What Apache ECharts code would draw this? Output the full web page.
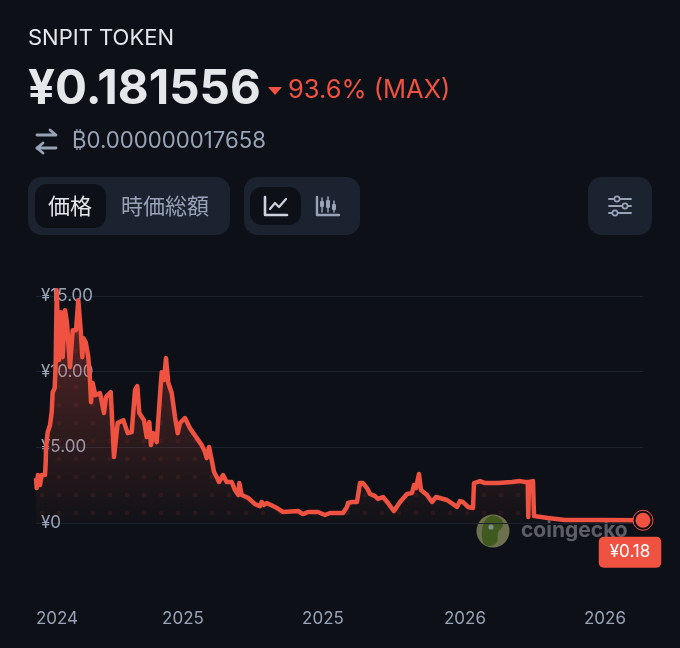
<!DOCTYPE html>
<html>
<head>
<meta charset="utf-8">
<style>
html, body { margin: 0; padding: 0; background: #0d1117; }
#chart { width: 680px; height: 648px; }
</style>
<script src="https://cdn.jsdelivr.net/npm/echarts@6/dist/echarts.min.js"></script>
</head>
<body>
<div id="chart"></div>
<script>
// days since the start of the chart
var days = [0, 0.7, 2, 4, 5.7, 9, 9.7, 10, 11.7, 14, 15.7, 16.7, 18.7, 19.7, 20.7, 22, 23, 24.7, 26.7, 29, 31, 34, 36.7, 40, 42.3, 43.3, 44.7, 46.3, 47.3, 49.7, 52.3, 54, 55, 56.7, 59.3, 64, 68, 70, 74.7, 76.3, 78, 80, 81.7, 87.3, 91.7, 95.7, 99, 101.3, 103.3, 108, 110.7, 113.3, 115, 117.3, 120.7, 124, 125.7, 128, 130, 132.3, 135.7, 139, 141.7, 144, 149, 154, 165.7, 169, 170.7, 173, 175.7, 178, 180.7, 183, 187, 190.7, 195.7, 199, 202.3, 203.3, 205.7, 212.3, 219, 224, 225.7, 228, 230.7, 239, 247, 262, 267, 272, 282, 289, 294, 307, 311, 312, 316, 321, 324, 327, 331, 334, 339, 342, 347, 352, 358, 364, 371, 376, 378, 380, 383, 385, 391, 396, 400, 402, 411, 421, 424, 427, 432, 437, 438, 444, 449, 462, 476, 484, 489, 491.7, 492.3, 493, 497, 498, 512, 529, 562, 607];
var prices = [2.97, 2.31, 3.17, 2.51, 3.17, 3.17, 4.03, 4.95, 6.01, 6.47, 7.33, 8.65, 8.92, 10.63, 15.39, 15.39, 10.77, 13.94, 10.96, 14.07, 13.21, 10.3, 12.75, 12.75, 14.73, 14.73, 12.75, 10.96, 12.22, 11.96, 10.96, 9.45, 7.99, 9.25, 8.45, 8.59, 7.27, 8.32, 8.65, 6.61, 4.36, 4.36, 6.61, 6.8, 5.94, 6.01, 8.78, 9.05, 7.27, 6.8, 5.68, 6.67, 5.15, 5.94, 5.35, 8.45, 9.97, 9.45, 10.9, 9.25, 8.59, 7.0, 5.94, 6.61, 6.94, 6.27, 5.15, 4.69, 4.29, 5.02, 4.16, 3.37, 3.04, 2.71, 3.17, 2.71, 2.71, 2.18, 1.85, 2.64, 1.85, 1.65, 1.25, 1.12, 1.39, 1.19, 1.32, 1.06, 0.73, 0.79, 0.59, 0.73, 0.73, 0.53, 0.66, 0.66, 1.06, 1.32, 1.39, 1.39, 2.64, 2.64, 2.31, 1.92, 1.78, 1.59, 1.72, 1.32, 0.79, 1.39, 1.92, 1.98, 2.51, 2.31, 3.24, 2.18, 1.85, 1.39, 1.72, 1.59, 1.52, 1.06, 1.45, 1.39, 1.06, 0.99, 2.64, 2.77, 2.64, 2.64, 2.71, 2.77, 2.71, 2.71, 0.4, 2.71, 2.77, 0.46, 0.33, 0.2, 0.2, 0.18];
var yTicks = [0, 5, 10, 15];
var yLabels = ['¥0', '¥5.00', '¥10.00', '¥15.00'];
var xTicks = [21, 147, 287, 429, 569];
var xLabels = ['2024', '2025', '2025', '2026', '2026'];

var red = '#ef5241';
var bg = '#0d1117';
var panel = '#1c2330';
var grey = '#98a3b8';
var latin = 'Inter, "Noto Sans", sans-serif';
var jp = '"Noto Sans CJK JP", sans-serif';

var points = days.map(function(d, i) { return [d, prices[i]]; });
var last = points[points.length - 1];

// dotted texture inside the area
var tile = document.createElement('canvas');
tile.width = 17;
tile.height = 18;
var c = tile.getContext('2d');
c.fillStyle = 'rgba(239,82,65,0.09)';
c.beginPath();
c.arc(8, 9, 2.4, 0, Math.PI * 2);
c.fill();

function txt(x, y, s, size, color, font, weight, align) {
    return {
        type: 'text', x: x, y: y, silent: true,
        style: { text: s, fontSize: size, fill: color, fontFamily: font, fontWeight: weight || 400, textAlign: align || 'left', textVerticalAlign: 'middle' }
    };
}
function box(x, y, w, h, r, fill) {
    return { type: 'rect', silent: true, shape: { x: x, y: y, width: w, height: h, r: r }, style: { fill: fill } };
}
function stroke(pts, color, width) {
    return { type: 'polyline', silent: true, shape: { points: pts }, style: { fill: null, stroke: color, lineWidth: width, lineCap: 'round', lineJoin: 'round' } };
}
function knob(x, y) {
    return { type: 'circle', silent: true, shape: { cx: x, cy: y, r: 2.6 }, style: { fill: panel, stroke: grey, lineWidth: 1.6 } };
}

var myChart = echarts.init(document.getElementById('chart'));

var option = {
    animation: false,
    backgroundColor: bg,
    grid: { left: 36, right: 37, top: 284, bottom: 125, containLabel: false },
    xAxis: {
        type: 'value',
        min: 0,
        max: 607,
        splitLine: { show: false },
        axisLine: { show: false },
        axisTick: { show: false },
        axisLabel: {
            customValues: xTicks,
            margin: 87,
            fontSize: 17,
            color: grey,
            fontFamily: latin,
            formatter: function(v) { return xLabels[xTicks.indexOf(v)]; }
        }
    },
    yAxis: {
        type: 'value',
        min: 0,
        max: 15.8,
        axisLine: { show: false },
        axisTick: { show: false, customValues: yTicks },
        splitLine: { show: true, lineStyle: { color: '#1d2431', width: 1 } },
        axisLabel: {
            customValues: yTicks,
            inside: true,
            margin: 5,
            padding: [4, 0, 0, 0],
            fontSize: 17,
            color: grey,
            fontFamily: latin,
            formatter: function(v) { return yLabels[yTicks.indexOf(v)]; }
        }
    },
    series: [
        {
            type: 'line',
            data: points,
            showSymbol: false,
            silent: true,
            lineStyle: { opacity: 0 },
            areaStyle: { color: { image: tile, repeat: 'repeat' }, opacity: 1 },
            z: 2
        },
        {
            type: 'line',
            data: points,
            showSymbol: false,
            silent: true,
            lineStyle: { color: red, width: 4.5, join: 'round' },
            areaStyle: {
                color: new echarts.graphic.LinearGradient(0, 0, 0, 1, [
                    { offset: 0, color: 'rgba(239,82,65,0.5)' },
                    { offset: 1, color: 'rgba(239,82,65,0.03)' }
                ])
            },
            z: 3
        },
        {
            type: 'scatter',
            data: [last],
            clip: false,
            silent: true,
            symbolSize: 20,
            itemStyle: { color: bg, borderColor: red, borderWidth: 1, opacity: 1 },
            z: 4
        },
        {
            type: 'scatter',
            data: [last],
            clip: false,
            silent: true,
            symbolSize: 15,
            itemStyle: { color: red, opacity: 1 },
            label: {
                show: true,
                position: 'bottom',
                offset: [-13, 4],
                formatter: '¥' + last[1].toFixed(2),
                color: '#ffffff',
                fontSize: 17,
                fontFamily: latin,
                backgroundColor: red,
                borderRadius: 5,
                padding: [7, 11, 7, 11]
            },
            z: 5
        }
    ],
    graphic: [
        txt(28, 38, 'SNPIT TOKEN', 22, '#e5e7eb', latin),
        txt(28, 90, '¥0.181556', 47.5, '#e5e7eb', latin, 700),
        { type: 'polygon', silent: true, shape: { points: [[268, 87], [282, 87], [275, 95]] }, style: { fill: red } },
        txt(288, 90, '93.6% (MAX)', 25.5, red, latin),
        stroke([[37, 135], [56, 135], [50, 130]], grey, 2.8),
        stroke([[43, 143], [37, 148], [56, 148]], grey, 2.8),
        stroke([[37, 148], [43, 153]], grey, 2.8),
        txt(72, 141, '₿0.000000017658', 22.2, grey, latin),

        box(28, 177, 202, 58, 14, panel),
        box(35, 184, 71, 44, 12, bg),
        txt(70, 206, '価格', 22, '#e5e7eb', jp, 400, 'center'),
        txt(165, 206, '時価総額', 22, grey, jp, 400, 'center'),

        box(244, 177, 116, 58, 14, panel),
        box(250, 187, 51, 38, 12, bg),
        stroke([[265, 197], [265, 215], [287, 215]], '#cbd2de', 2.6),
        stroke([[270, 209], [275, 203], [279, 207], [286, 199]], '#cbd2de', 2.2),
        stroke([[317, 197], [317, 215], [339, 215]], grey, 2.4),
        stroke([[322, 198], [322, 212]], grey, 1.5),
        stroke([[328, 197], [328, 212]], grey, 1.5),
        stroke([[334, 201], [334, 212]], grey, 1.5),
        box(320, 201, 4, 6, 1, grey),
        box(326, 200, 4, 8, 1, grey),
        box(332, 204, 4, 6, 1, grey),

        box(588, 177, 64, 58, 14, panel),
        stroke([[609, 199], [631, 199]], grey, 1.8),
        stroke([[609, 206], [631, 206]], grey, 1.8),
        stroke([[609, 213], [631, 213]], grey, 1.8),
        knob(617, 199),
        knob(625, 206),
        knob(615, 213),

        // watermark
        { type: 'circle', silent: true, shape: { cx: 493, cy: 531, r: 16.5 }, style: { fill: '#6e6f4e' } },
        { type: 'polygon', silent: true, shape: { smooth: 0.4, points: [[483, 542], [483, 525], [490, 516], [500, 518], [503, 525], [498, 533], [497, 542], [489, 546]] }, style: { fill: '#3f5a1e' } },
        { type: 'circle', silent: true, shape: { cx: 491, cy: 527, r: 2.6 }, style: { fill: '#7f8d8c' } },
        txt(521, 531, 'coingecko', 21, '#5c5e64', latin, 700)
    ]
};

myChart.setOption(option);

window.addEventListener('resize', function() {
    myChart.resize();
});
</script>
</body>
</html>
